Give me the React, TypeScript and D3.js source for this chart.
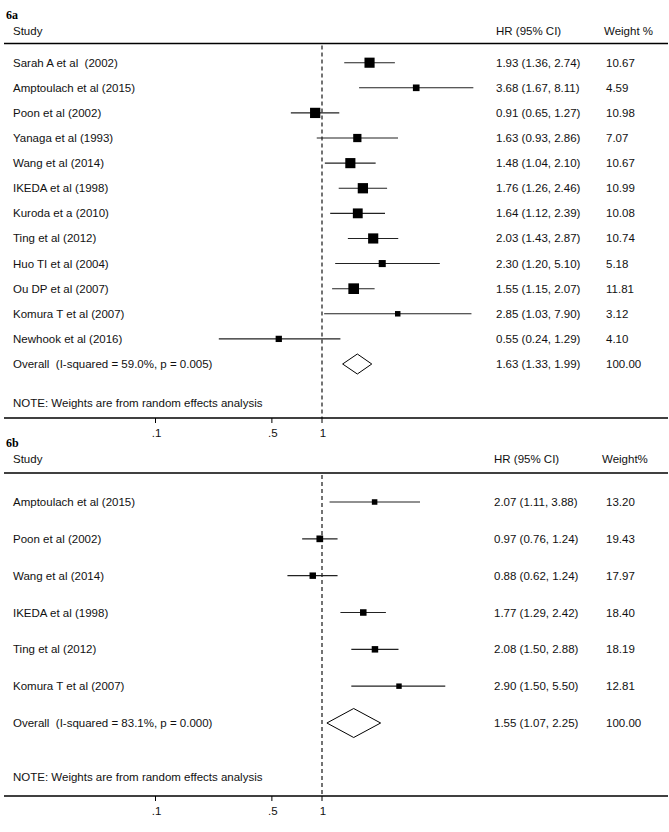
import React from "react";
import * as d3 from "d3";

// ---------- Data: panel 6a ----------
const studiesA = [
  "Sarah A et al  (2002)",
  "Amptoulach et al (2015)",
  "Poon et al (2002)",
  "Yanaga et al (1993)",
  "Wang et al (2014)",
  "IKEDA et al (1998)",
  "Kuroda et a (2010)",
  "Ting et al (2012)",
  "Huo TI et al (2004)",
  "Ou DP et al (2007)",
  "Komura T et al (2007)",
  "Newhook et al (2016)",
];
const hrA = [1.93, 3.68, 0.91, 1.63, 1.48, 1.76, 1.64, 2.03, 2.3, 1.55, 2.85, 0.55];
const loA = [1.36, 1.67, 0.65, 0.93, 1.04, 1.26, 1.12, 1.43, 1.2, 1.15, 1.03, 0.24];
const hiA = [2.74, 8.11, 1.27, 2.86, 2.1, 2.46, 2.39, 2.87, 5.1, 2.07, 7.9, 1.29];
const weightA = [10.67, 4.59, 10.98, 7.07, 10.67, 10.99, 10.08, 10.74, 5.18, 11.81, 3.12, 4.1];
const overallA = { label: "Overall  (I-squared = 59.0%, p = 0.005)", hr: 1.63, lo: 1.33, hi: 1.99, w: 100.0 };

// ---------- Data: panel 6b ----------
const studiesB = [
  "Amptoulach et al (2015)",
  "Poon et al (2002)",
  "Wang et al (2014)",
  "IKEDA et al (1998)",
  "Ting et al (2012)",
  "Komura T et al (2007)",
];
const hrB = [2.07, 0.97, 0.88, 1.77, 2.08, 2.9];
const loB = [1.11, 0.76, 0.62, 1.29, 1.5, 1.5];
const hiB = [3.88, 1.24, 1.24, 2.42, 2.88, 5.5];
const weightB = [13.2, 19.43, 17.97, 18.4, 18.19, 12.81];
const overallB = { label: "Overall  (I-squared = 83.1%, p = 0.000)", hr: 1.55, lo: 1.07, hi: 2.25, w: 100.0 };

const tickValues = [0.1, 0.5, 1];
const tickLabels = [".1", ".5", "1"];
const noteText = "NOTE: Weights are from random effects analysis";

const W = 669;
const H = 832;
const SANS = "'Liberation Sans', Arial, sans-serif";
const SERIF = "'Liberation Serif', 'Times New Roman', serif";
const FS = 11.5;
const TXT = "#111";

const x = d3.scaleLog().domain([0.1, 10]).range([155.5, 488.5]);

type PanelProps = {
  title: string;
  weightHeader: string;
  studies: string[];
  hr: number[];
  lo: number[];
  hi: number[];
  weight: number[];
  overall: { label: string; hr: number; lo: number; hi: number; w: number };
  titleY: number;
  studyY: number;
  headerLineY: number;
  firstRowY: number;
  overallY: number;
  noteY: number;
  axisY: number;
  sqK: number;
  diamondH: number;
  hrX: number;
  wX: number;
  wHeadX: number;
};

const pre: React.CSSProperties = { whiteSpace: "pre" };

function Panel(p: PanelProps) {
  const n = p.studies.length;
  const y = d3.scaleLinear().domain([0, n]).range([p.firstRowY, p.overallY]);
  const rows = p.studies.map((s, i) => ({ s, hr: p.hr[i], lo: p.lo[i], hi: p.hi[i], w: p.weight[i], i }));
  const ov = p.overall;
  const oy = y(n);
  const diamond = [
    [x(ov.lo), oy],
    [x(ov.hr), oy - p.diamondH / 2],
    [x(ov.hi), oy],
    [x(ov.hr), oy + p.diamondH / 2],
  ];
  const fmtCI = (h: number, l: number, u: number) => `${h.toFixed(2)} (${l.toFixed(2)}, ${u.toFixed(2)})`;
  return (
    <g fill={TXT}>
      <text x={6} y={p.titleY} dy="0.35em" fontFamily={SERIF} fontWeight="bold" fontSize={12} fill="#000">{p.title}</text>
      <text x={13} y={p.studyY} dy="0.35em" fontFamily={SANS} fontSize={FS}>Study</text>
      <text x={p.hrX} y={p.studyY} dy="0.35em" fontFamily={SANS} fontSize={FS}>HR (95% CI)</text>
      <text x={p.wHeadX} y={p.studyY} dy="0.35em" fontFamily={SANS} fontSize={FS}>{p.weightHeader}</text>
      <line x1={4} x2={668} y1={p.headerLineY} y2={p.headerLineY} stroke="#000" strokeWidth={1.3} />
      {/* null line */}
      <line x1={x(1)} x2={x(1)} y1={p.headerLineY + 2} y2={p.axisY} stroke="#000" strokeWidth={1.1} strokeDasharray="4,3" />
      {rows.map((r) => {
        const side = p.sqK * Math.sqrt(r.w);
        const yy = y(r.i);
        return (
          <g key={r.i}>
            <text x={13} y={yy} dy="0.35em" fontFamily={SANS} fontSize={FS} style={pre}>{r.s}</text>
            <line x1={x(r.lo)} x2={x(r.hi)} y1={yy} y2={yy} stroke="#222" strokeWidth={1.1} />
            <rect x={x(r.hr) - side / 2} y={yy - side / 2} width={side} height={side} fill="#000" />
            <text x={p.hrX} y={yy} dy="0.35em" fontFamily={SANS} fontSize={FS}>{fmtCI(r.hr, r.lo, r.hi)}</text>
            <text x={p.wX} y={yy} dy="0.35em" fontFamily={SANS} fontSize={FS}>{r.w.toFixed(2)}</text>
          </g>
        );
      })}
      <text x={13} y={oy} dy="0.35em" fontFamily={SANS} fontSize={FS} style={pre}>{ov.label}</text>
      <polygon points={diamond.map((d) => d.join(",")).join(" ")} fill="#fff" stroke="#000" strokeWidth={1} />
      <text x={p.hrX} y={oy} dy="0.35em" fontFamily={SANS} fontSize={FS}>{fmtCI(ov.hr, ov.lo, ov.hi)}</text>
      <text x={p.wX} y={oy} dy="0.35em" fontFamily={SANS} fontSize={FS}>{ov.w.toFixed(2)}</text>
      <text x={13} y={p.noteY} dy="0.35em" fontFamily={SANS} fontSize={FS}>{noteText}</text>
      <line x1={4} x2={668} y1={p.axisY} y2={p.axisY} stroke="#000" strokeWidth={1.3} />
      {tickValues.map((t, i) => (
        <g key={t}>
          <line x1={x(t)} x2={x(t)} y1={p.axisY} y2={p.axisY + 5} stroke="#000" strokeWidth={1} />
          <text x={x(t) + 1} y={p.axisY + 15} dy="0.35em" textAnchor="middle" fontFamily={SANS} fontSize={FS}>{tickLabels[i]}</text>
        </g>
      ))}
    </g>
  );
}

export default function App() {
  return (
    <svg width={W} height={H} style={{ position: "absolute", left: 0, top: 0, background: "#fff" }}>
      <rect x={0} y={0} width={W} height={H} fill="#fff" />
      <Panel
        title="6a"
        weightHeader="Weight %"
        studies={studiesA}
        hr={hrA}
        lo={loA}
        hi={hiA}
        weight={weightA}
        overall={overallA}
        titleY={15}
        studyY={31}
        headerLineY={43.5}
        firstRowY={62.7}
        overallY={364}
        noteY={403}
        axisY={418}
        sqK={3.1}
        diamondH={20}
        hrX={496}
        wX={606}
        wHeadX={604}
      />
      <Panel
        title="6b"
        weightHeader="Weight%"
        studies={studiesB}
        hr={hrB}
        lo={loB}
        hi={hiB}
        weight={weightB}
        overall={overallB}
        titleY={443}
        studyY={459}
        headerLineY={473}
        firstRowY={502}
        overallY={723}
        noteY={777}
        axisY={796}
        sqK={1.52}
        diamondH={29}
        hrX={494}
        wX={606}
        wHeadX={602}
      />
    </svg>
  );
}
